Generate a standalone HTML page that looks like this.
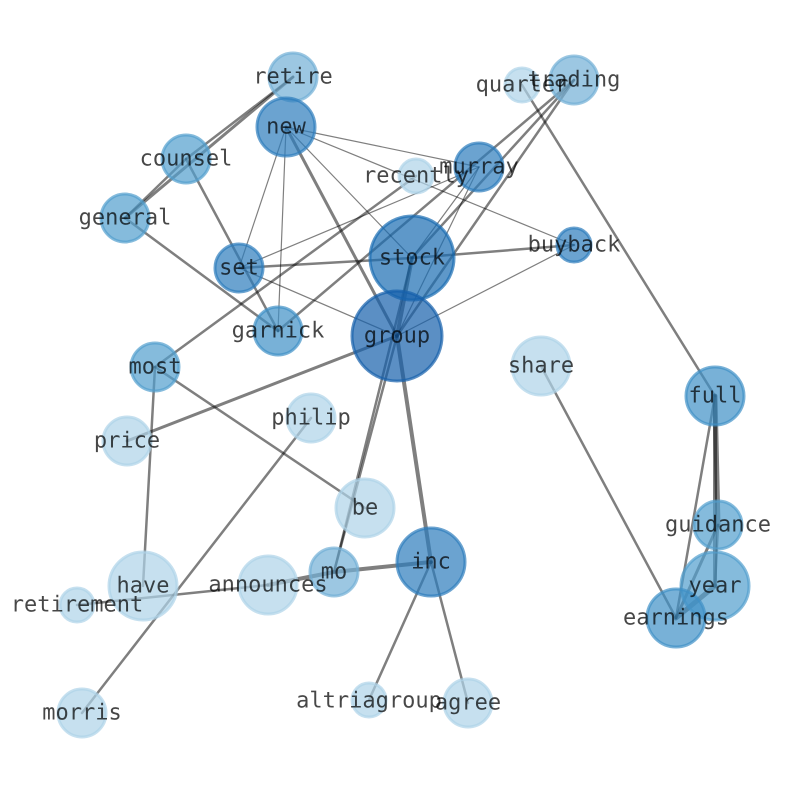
<!DOCTYPE html>
<html><head><meta charset="utf-8"><style>
html,body{margin:0;padding:0;background:#fff}
svg{display:block}
text{font-family:"DejaVu Sans Mono","Liberation Mono",monospace;font-size:22px;fill:#000;fill-opacity:.72;text-anchor:middle;text-rendering:geometricPrecision}
line{stroke:#000;stroke-opacity:.5;stroke-linecap:round}
circle{stroke-width:3;fill-opacity:.7;stroke-opacity:.7}
.a{fill:#1560ab;stroke:#1560ab}
.b{fill:#1a6cb2;stroke:#1a6cb2}
.c{fill:#2c7cbc;stroke:#2c7cbc}
.d{fill:#3e90c6;stroke:#3e90c6}
.e{fill:#519ecd;stroke:#519ecd}
.f{fill:#72afd6;stroke:#72afd6}
.g{fill:#aed3e8;stroke:#aed3e8}
</style></head><body>
<svg width="794" height="790" viewBox="0 0 794 790" xmlns="http://www.w3.org/2000/svg">
<g stroke-width="2.5">
<line x1="293" y1="77" x2="125" y2="218" stroke-width="3"/>
<line x1="293" y1="77" x2="186" y2="159"/>
<line x1="186" y1="159" x2="125" y2="218"/>
<line x1="186" y1="159" x2="278" y2="331"/>
<line x1="125" y1="218" x2="278" y2="331"/>
<line x1="286" y1="127" x2="239" y2="268" stroke-width="1.2"/>
<line x1="286" y1="127" x2="278" y2="331" stroke-width="1.2"/>
<line x1="286" y1="127" x2="397" y2="336" stroke-width="3"/>
<line x1="286" y1="127" x2="412" y2="258" stroke-width="1.2"/>
<line x1="286" y1="127" x2="479" y2="167" stroke-width="1.2"/>
<line x1="286" y1="127" x2="574" y2="245" stroke-width="1.2"/>
<line x1="239" y1="268" x2="412" y2="258" stroke-width="2.5"/>
<line x1="239" y1="268" x2="479" y2="167" stroke-width="1.2"/>
<line x1="239" y1="268" x2="397" y2="336" stroke-width="1.2"/>
<line x1="278" y1="331" x2="574" y2="80"/>
<line x1="155" y1="367" x2="416" y2="176"/>
<line x1="155" y1="367" x2="365" y2="508"/>
<line x1="155" y1="367" x2="143" y2="586"/>
<line x1="127" y1="441" x2="397" y2="336" stroke-width="3"/>
<line x1="412" y1="258" x2="479" y2="167" stroke-width="1.2"/>
<line x1="397" y1="336" x2="479" y2="167" stroke-width="1.2"/>
<line x1="412" y1="258" x2="574" y2="80"/>
<line x1="397" y1="336" x2="574" y2="80"/>
<line x1="412" y1="258" x2="574" y2="245" stroke-width="2.5"/>
<line x1="397" y1="336" x2="574" y2="245" stroke-width="1.2"/>
<line x1="412" y1="258" x2="397" y2="336" stroke-width="4"/>
<line x1="412" y1="258" x2="334" y2="572" stroke-width="2.5"/>
<line x1="397" y1="336" x2="334" y2="572" stroke-width="2.5"/>
<line x1="397" y1="336" x2="431" y2="562" stroke-width="4"/>
<line x1="431" y1="562" x2="334" y2="572" stroke-width="4"/>
<line x1="334" y1="572" x2="268" y2="585" stroke-width="4"/>
<line x1="268" y1="585" x2="77" y2="605" stroke-width="2.5"/>
<line x1="311" y1="418" x2="82" y2="713"/>
<line x1="431" y1="562" x2="369" y2="700"/>
<line x1="431" y1="562" x2="468" y2="703"/>
<line x1="522" y1="85" x2="715" y2="396"/>
<line x1="541" y1="366" x2="676" y2="618"/>
<line x1="715" y1="396" x2="718" y2="525" stroke-width="5"/>
<line x1="715" y1="396" x2="715" y2="586" stroke-width="4"/>
<line x1="715" y1="396" x2="676" y2="618"/>
<line x1="718" y1="525" x2="715" y2="586"/>
<line x1="718" y1="525" x2="676" y2="618" stroke-width="3"/>
<line x1="715" y1="586" x2="676" y2="618" stroke-width="5"/>
</g>
<g>
<circle cx="293" cy="77" r="24" class="f"/>
<circle cx="286" cy="127" r="29" class="c"/>
<circle cx="186" cy="159" r="24" class="e"/>
<circle cx="125" cy="218" r="24" class="e"/>
<circle cx="239" cy="268" r="24" class="c"/>
<circle cx="278" cy="331" r="24" class="d"/>
<circle cx="155" cy="367" r="24" class="e"/>
<circle cx="127" cy="441" r="24" class="g"/>
<circle cx="311" cy="418" r="24" class="g"/>
<circle cx="416" cy="176" r="17" class="g"/>
<circle cx="479" cy="167" r="24" class="c"/>
<circle cx="522" cy="85" r="17" class="g"/>
<circle cx="574" cy="80" r="24" class="f"/>
<circle cx="574" cy="245" r="17" class="c"/>
<circle cx="412" cy="258" r="42" class="b"/>
<circle cx="397" cy="336" r="45" class="a"/>
<circle cx="541" cy="366" r="29" class="g"/>
<circle cx="715" cy="396" r="29" class="d"/>
<circle cx="718" cy="525" r="24" class="e"/>
<circle cx="715" cy="586" r="34" class="e"/>
<circle cx="676" cy="618" r="29" class="d"/>
<circle cx="365" cy="508" r="29" class="g"/>
<circle cx="431" cy="562" r="34" class="c"/>
<circle cx="334" cy="572" r="24" class="f"/>
<circle cx="268" cy="585" r="29" class="g"/>
<circle cx="143" cy="586" r="34" class="g"/>
<circle cx="77" cy="605" r="17" class="g"/>
<circle cx="82" cy="713" r="24" class="g"/>
<circle cx="369" cy="700" r="17" class="g"/>
<circle cx="468" cy="703" r="24" class="g"/>
</g>
<g>
<text x="293" y="83.5">retire</text>
<text x="286" y="133.5">new</text>
<text x="186" y="165.5">counsel</text>
<text x="125" y="224.5">general</text>
<text x="239" y="274.5">set</text>
<text x="278" y="337.5">garnick</text>
<text x="155" y="373.5">most</text>
<text x="127" y="447.5">price</text>
<text x="311" y="424.5">philip</text>
<text x="416" y="182.5">recently</text>
<text x="479" y="173.5">murray</text>
<text x="522" y="91.5">quarter</text>
<text x="574" y="86.5">trading</text>
<text x="574" y="251.5">buyback</text>
<text x="412" y="264.5">stock</text>
<text x="397" y="342.5">group</text>
<text x="541" y="372.5">share</text>
<text x="715" y="402.5">full</text>
<text x="718" y="531.5">guidance</text>
<text x="715" y="592.5">year</text>
<text x="676" y="624.5">earnings</text>
<text x="365" y="514.5">be</text>
<text x="431" y="568.5">inc</text>
<text x="334" y="578.5">mo</text>
<text x="268" y="591.5">announces</text>
<text x="143" y="592.5">have</text>
<text x="77" y="611.5">retirement</text>
<text x="82" y="719.5">morris</text>
<text x="369" y="707.5">altriagroup</text>
<text x="468" y="709.5">agree</text>
</g>
</svg>
</body></html>
